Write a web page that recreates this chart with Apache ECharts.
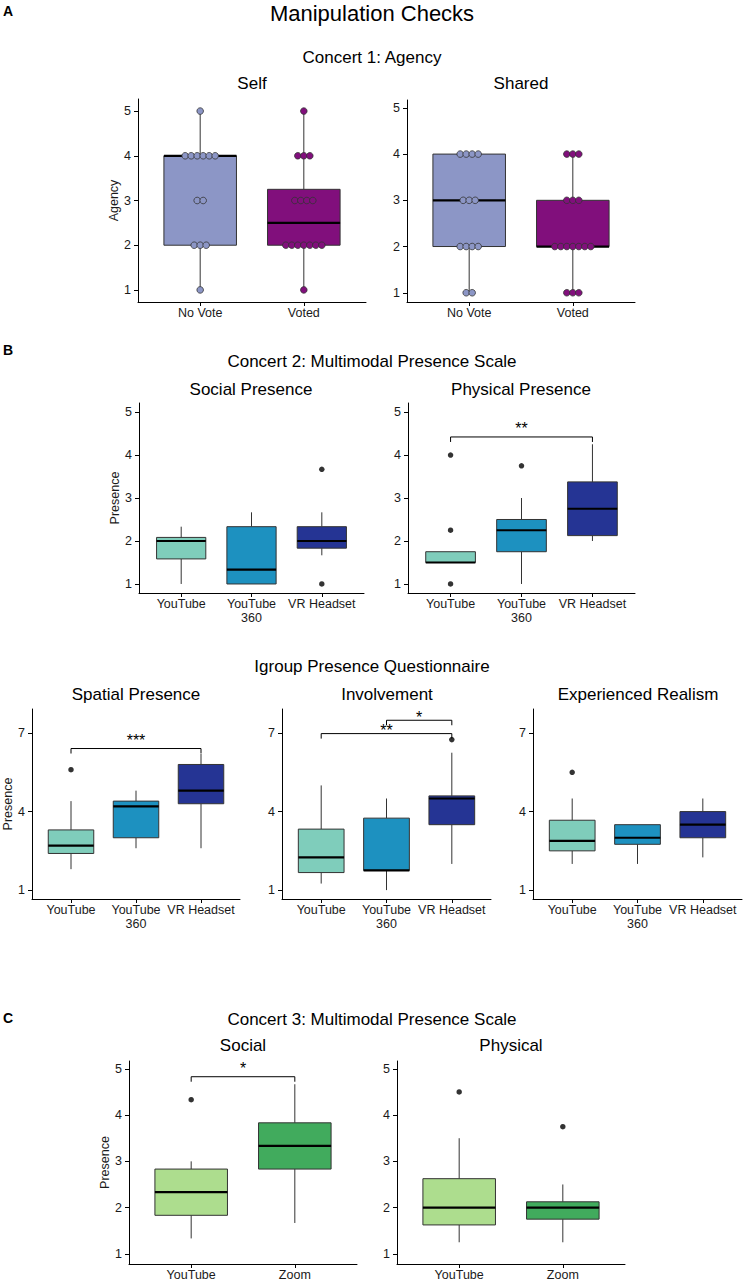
<!DOCTYPE html>
<html>
<head>
<meta charset="utf-8">
<script src="https://cdn.jsdelivr.net/npm/echarts@6/dist/echarts.min.js"></script>
<style>
html, body { margin: 0; padding: 0; background: #fff; }
#main { width: 744px; height: 1284px; }
</style>
</head>
<body>
<div id="main"></div>
<script>
// ---------- data ----------
const agencyGroups = ['No Vote', 'Voted']
const streamGroups = ['YouTube', 'YouTube\n360', 'VR Headset']
const concert3Groups = ['YouTube', 'Zoom']

// box stats per group: [lower whisker, Q1, median, Q3, upper whisker]
const selfBoxes = [[1, 2, 4, 4, 5], [1, 2, 2.5, 3.25, 5]]
const sharedBoxes = [[1, 2, 3, 4, 4], [1, 2, 2, 3, 4]]

// dotplot counts for answers 1..5
const agencyLevels = [1, 2, 3, 4, 5]
const selfNoVoteCounts = [1, 3, 2, 6, 1]
const selfVotedCounts = [1, 7, 4, 3, 1]
const sharedNoVoteCounts = [2, 4, 3, 4, 0]
const sharedVotedCounts = [3, 7, 3, 3, 0]

const socialBoxes = [[1, 1.583, 2, 2.083, 2.333], [1, 1, 1.333, 2.333, 2.667], [1.667, 1.833, 2, 2.333, 2.667]]
const socialOutliers = [[3, 3.667], [3, 1]]
const physicalBoxes = [[1.5, 1.5, 1.5, 1.75, 1.75], [1, 1.75, 2.25, 2.5, 3], [2, 2.125, 2.75, 3.375, 4.25]]
const physicalOutliers = [[1, 4], [1, 2.25], [1, 1], [2, 3.75]]
const physicalBrackets = [[1, 3, 4.42]]
const physicalStars = ['**']

const spatialBoxes = [[1.8, 2.4, 2.7, 3.3, 4.4], [2.6, 3.0, 4.2, 4.4, 4.8], [2.6, 4.3, 4.8, 5.8, 6.2]]
const spatialOutliers = [[1, 5.6]]
const spatialBrackets = [[1, 3, 6.41]]
const spatialStars = ['***']

const involvementBoxes = [[1.25, 1.67, 2.25, 3.33, 5.0], [1.0, 1.75, 1.75, 3.75, 4.5], [2.0, 3.5, 4.5, 4.6, 6.25]]
const involvementOutliers = [[3, 6.75]]
const involvementBrackets = [[1, 3, 6.98], [2, 3, 7.49]]
const involvementStars = ['**', '*']

const realismBoxes = [[2.0, 2.5, 2.88, 3.67, 4.5], [2.0, 2.75, 3.0, 3.5, 3.5], [2.25, 3.0, 3.5, 4.0, 4.5]]
const realismOutliers = [[1, 5.5]]

const c3SocialBoxes = [[1.333, 1.833, 2.333, 2.833, 3.0], [1.667, 2.833, 3.333, 3.833, 4.667]]
const c3SocialOutliers = [[1, 4.333]]
const c3SocialBrackets = [[1, 2, 4.83]]
const c3SocialStars = ['*']
const c3PhysicalBoxes = [[1.25, 1.625, 2, 2.625, 3.5], [1.25, 1.75, 2, 2.125, 2.5]]
const c3PhysicalOutliers = [[1, 4.5], [2, 3.75]]

const agencyColors = ['#8c96c6', '#810f7c']
const streamColors = ['#7fcdbb', '#1d91c0', '#253494']
const concert3Colors = ['#addd8e', '#41ab5d']

// ---------- style ----------
const FONT = '"Liberation Sans", Arial, Helvetica, sans-serif'
const BOX_WIDTH = 0.7
const DOT_STEP = 6
const DOT_R = 3.3
const TIP = 5
const INK = '#000'
const LINE = '#333'

function dotsFrom (counts, groupIndex) {
  return agencyLevels.map((lv, k) => [groupIndex, lv, counts[k]]).filter(d => d[2] > 0)
}

// panel layout, in pixels
const panels = [
  { left: 138, top: 99, width: 228, height: 203, yMin: 0.73, yMax: 5.27, yTicks: [1, 2, 3, 4, 5], yName: 'Agency',
    groups: agencyGroups, colors: agencyColors, boxes: selfBoxes,
    dots: dotsFrom(selfNoVoteCounts, 1).concat(dotsFrom(selfVotedCounts, 2)) },
  { left: 407, top: 100, width: 228, height: 202, yMin: 0.8, yMax: 5.17, yTicks: [1, 2, 3, 4, 5],
    groups: agencyGroups, colors: agencyColors, boxes: sharedBoxes,
    dots: dotsFrom(sharedNoVoteCounts, 1).concat(dotsFrom(sharedVotedCounts, 2)) },
  { left: 139, top: 403, width: 225, height: 190, yMin: 0.79, yMax: 5.21, yTicks: [1, 2, 3, 4, 5], yName: 'Presence',
    groups: streamGroups, colors: streamColors, boxes: socialBoxes, outliers: socialOutliers },
  { left: 408, top: 403, width: 227, height: 190, yMin: 0.79, yMax: 5.21, yTicks: [1, 2, 3, 4, 5],
    groups: streamGroups, colors: streamColors, boxes: physicalBoxes, outliers: physicalOutliers,
    brackets: physicalBrackets, stars: physicalStars },
  { left: 32, top: 709, width: 208, height: 190, yMin: 0.66, yMax: 7.92, yTicks: [1, 4, 7], yName: 'Presence',
    groups: streamGroups, colors: streamColors, boxes: spatialBoxes, outliers: spatialOutliers,
    brackets: spatialBrackets, stars: spatialStars },
  { left: 282, top: 709, width: 209, height: 190, yMin: 0.66, yMax: 7.92, yTicks: [1, 4, 7],
    groups: streamGroups, colors: streamColors, boxes: involvementBoxes, outliers: involvementOutliers,
    brackets: involvementBrackets, stars: involvementStars, starLift: -5 },
  { left: 533, top: 709, width: 209, height: 190, yMin: 0.66, yMax: 7.92, yTicks: [1, 4, 7],
    groups: streamGroups, colors: streamColors, boxes: realismBoxes, outliers: realismOutliers },
  { left: 129, top: 1061, width: 228, height: 203, yMin: 0.78, yMax: 5.17, yTicks: [1, 2, 3, 4, 5], yName: 'Presence',
    groups: concert3Groups, colors: concert3Colors, boxes: c3SocialBoxes, outliers: c3SocialOutliers,
    brackets: c3SocialBrackets, stars: c3SocialStars },
  { left: 397, top: 1061, width: 228, height: 203, yMin: 0.78, yMax: 5.17, yTicks: [1, 2, 3, 4, 5],
    groups: concert3Groups, colors: concert3Colors, boxes: c3PhysicalBoxes, outliers: c3PhysicalOutliers }
]

const headings = [
  { text: 'Manipulation Checks', x: 372, y: 13, size: 22 },
  { text: 'A', x: 3, y: 11, size: 14, bold: true, align: 'left' },
  { text: 'Concert 1: Agency', x: 372, y: 57, size: 17 },
  { text: 'Self', x: 252, y: 83, size: 17 },
  { text: 'Shared', x: 521, y: 83, size: 17 },
  { text: 'B', x: 3, y: 350, size: 14, bold: true, align: 'left' },
  { text: 'Concert 2: Multimodal Presence Scale', x: 372, y: 361, size: 17 },
  { text: 'Social Presence', x: 251, y: 389, size: 17 },
  { text: 'Physical Presence', x: 521, y: 389, size: 17 },
  { text: 'Igroup Presence Questionnaire', x: 372, y: 666, size: 17 },
  { text: 'Spatial Presence', x: 136, y: 694, size: 17 },
  { text: 'Involvement', x: 387, y: 694, size: 17 },
  { text: 'Experienced Realism', x: 638, y: 694, size: 17 },
  { text: 'C', x: 3, y: 1018, size: 14, bold: true, align: 'left' },
  { text: 'Concert 3: Multimodal Presence Scale', x: 372, y: 1019, size: 17 },
  { text: 'Social', x: 243, y: 1045, size: 17 },
  { text: 'Physical', x: 511, y: 1045, size: 17 }
]

// ---------- render helpers ----------
function boxRender (colors) {
  return function (params, api) {
    const x = api.value(0)
    const lo = api.coord([x, api.value(1)])
    const q1 = api.coord([x, api.value(2)])
    const med = api.coord([x, api.value(3)])
    const q3 = api.coord([x, api.value(4)])
    const hi = api.coord([x, api.value(5)])
    const half = api.size([BOX_WIDTH, 0])[0] / 2
    const cx = lo[0]
    return {
      type: 'group',
      children: [
        { type: 'line', shape: { x1: cx, y1: lo[1], x2: cx, y2: q1[1] }, style: { stroke: LINE, lineWidth: 1 } },
        { type: 'line', shape: { x1: cx, y1: q3[1], x2: cx, y2: hi[1] }, style: { stroke: LINE, lineWidth: 1 } },
        { type: 'rect', shape: { x: cx - half, y: q3[1], width: half * 2, height: q1[1] - q3[1] },
          style: { fill: colors[params.dataIndex], stroke: LINE, lineWidth: 1 } },
        { type: 'line', shape: { x1: cx - half, y1: med[1], x2: cx + half, y2: med[1] }, style: { stroke: INK, lineWidth: 2.2 } }
      ]
    }
  }
}

function dotRender (colors) {
  return function (params, api) {
    const g = api.value(0)
    const c = api.coord([g, api.value(1)])
    const n = api.value(2)
    const children = []
    for (let i = 0; i < n; i++) {
      children.push({
        type: 'circle',
        shape: { cx: c[0] + (i - (n - 1) / 2) * DOT_STEP, cy: c[1], r: DOT_R },
        style: { fill: colors[g - 1], stroke: LINE, lineWidth: 0.8 }
      })
    }
    return { type: 'group', children: children }
  }
}

function bracketRender (stars, lift) {
  return function (params, api) {
    const a = api.coord([api.value(0), api.value(2)])
    const b = api.coord([api.value(1), api.value(2)])
    return {
      type: 'group',
      children: [
        { type: 'polyline', shape: { points: [[a[0], a[1] + TIP], a, b, [b[0], b[1] + TIP]] },
          style: { stroke: INK, lineWidth: 1, fill: null } },
        { type: 'text', x: (a[0] + b[0]) / 2, y: a[1] - lift,
          style: { text: stars[params.dataIndex], fill: INK, fontSize: 16, fontFamily: FONT, align: 'center', verticalAlign: 'bottom' } }
      ]
    }
  }
}

const axisLineStyle = { color: INK, width: 1 }
const labelStyle = { color: '#1a1a1a', fontSize: 12.5, fontFamily: FONT }

const series = []
panels.forEach((p, i) => {
  series.push({
    type: 'custom', xAxisIndex: i, yAxisIndex: i, z: 2,
    renderItem: boxRender(p.colors),
    data: p.boxes.map((b, k) => [k + 1].concat(b))
  })
  if (p.outliers) {
    series.push({
      type: 'scatter', xAxisIndex: i, yAxisIndex: i, z: 3,
      symbolSize: 5.5, itemStyle: { color: INK },
      data: p.outliers
    })
  }
  if (p.dots) {
    series.push({
      type: 'custom', xAxisIndex: i, yAxisIndex: i, z: 4,
      renderItem: dotRender(p.colors),
      data: p.dots
    })
  }
  if (p.brackets) {
    series.push({
      type: 'custom', xAxisIndex: i, yAxisIndex: i, z: 5,
      renderItem: bracketRender(p.stars, p.starLift === undefined ? 0 : p.starLift),
      data: p.brackets
    })
  }
})

const option = {
  animation: false,
  backgroundColor: '#fff',
  textStyle: { fontFamily: FONT },
  graphic: headings.map(h => ({
    type: 'text', x: h.x, y: h.y, silent: true,
    style: {
      text: h.text, fill: INK, fontSize: h.size, fontFamily: FONT,
      fontWeight: h.bold ? 'bold' : 'normal',
      align: h.align || 'center', verticalAlign: 'middle'
    }
  })),
  grid: panels.map(p => ({ left: p.left, top: p.top, width: p.width, height: p.height, outerBoundsMode: 'none' })),
  xAxis: panels.map((p, i) => {
    const ticks = p.groups.map((g, k) => k + 1)
    return {
      type: 'value', gridIndex: i, min: 0.4, max: p.groups.length + 0.6,
      axisLine: { show: true, onZero: false, lineStyle: axisLineStyle },
      axisTick: { show: true, length: 4, customValues: ticks, lineStyle: axisLineStyle },
      axisLabel: Object.assign({ customValues: ticks, margin: 4, lineHeight: 14,
        formatter: v => p.groups[Math.round(v) - 1] || '' }, labelStyle),
      splitLine: { show: false }
    }
  }),
  yAxis: panels.map((p, i) => ({
    type: 'value', gridIndex: i, min: p.yMin, max: p.yMax,
    axisLine: { show: true, onZero: false, lineStyle: axisLineStyle },
    axisTick: { show: true, length: 4, customValues: p.yTicks, lineStyle: axisLineStyle },
    axisLabel: Object.assign({ customValues: p.yTicks, margin: 7 }, labelStyle),
    splitLine: { show: false },
    name: p.yName || '', nameLocation: 'middle', nameGap: 17, nameRotate: 90,
    nameTextStyle: { color: '#1a1a1a', fontSize: 12.5, fontFamily: FONT }
  })),
  series: series
}

const chart = echarts.init(document.getElementById('main'), null, { renderer: 'svg' })
chart.setOption(option)
</script>
</body>
</html>
